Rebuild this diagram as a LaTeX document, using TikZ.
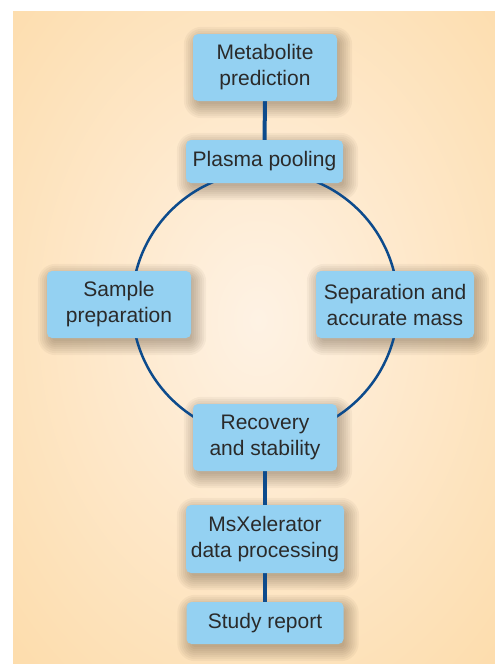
\documentclass[tikz,border=0pt]{standalone}
\usepackage{fontspec}
\setmainfont{Liberation Sans}
\usetikzlibrary{calc}
\definecolor{bgin}{HTML}{FEF2E4}
\definecolor{bgout}{HTML}{FDD79E}
\definecolor{boxfill}{HTML}{94D1F2}
\definecolor{linec}{HTML}{0D4B8C}
\definecolor{txt}{HTML}{2A2A2A}
\pgfdeclarelayer{bg}
\pgfdeclarelayer{shadow}
\pgfdeclarelayer{lines}
\pgfsetlayers{bg,shadow,lines,main}
\tikzset{
  stepbox/.style={fill=boxfill, rounded corners=5pt, inner sep=0pt, align=center,
    text=txt, font=\fontsize{21}{26}\selectfont},
  conn/.style={draw=linec, line width=4pt},
  ringline/.style={draw=linec, line width=2.5pt},
  shadowpiece/.style={fill=black!70!brown, fill opacity=0.045}
}
\begin{document}
\begin{tikzpicture}[x=1pt,y=-1pt]
\useasboundingbox (0,0) rectangle (495,664);
\begin{pgfonlayer}{bg}
\begin{scope}
\clip (13,11) rectangle (495,664);
\fill[bgout] (13,11) rectangle (495,664);
\shade[inner color=bgin, outer color=bgout] (258,320) ellipse (440pt and 600pt);
\end{scope}
\end{pgfonlayer}

\node[stepbox, minimum width=144pt, minimum height=67pt] (meta) at (265,67.5) {Metabolite\\prediction};
\node[stepbox, minimum width=157pt, minimum height=43pt] (plasma) at (264.5,161.5) {Plasma pooling};
\node[stepbox, minimum width=144pt, minimum height=67pt] (sample) at (119,304.5) {Sample\\preparation};
\node[stepbox, minimum width=158pt, minimum height=67pt] (sep) at (395,304.5) {Separation and\\accurate mass};
\node[stepbox, minimum width=144pt, minimum height=67pt] (recov) at (265,437.5) {Recovery\\and stability};
\node[stepbox, minimum width=158pt, minimum height=68pt] (msx) at (265,539) {MsXelerator\\data processing};
\node[stepbox, minimum width=157pt, minimum height=42pt] (report) at (265,623) {Study report};

\begin{pgfonlayer}{shadow}
\foreach \n in {meta,plasma,sample,sep,recov,msx,report}
  \foreach \k in {-2,0,2,4,6,8,10,12}
    \fill[shadowpiece, rounded corners={6pt+\k pt}]
      ($(\n.south west)+(3-\k,5+\k)$) rectangle ($(\n.north east)+(3+\k,5-\k)$);
\end{pgfonlayer}

\begin{pgfonlayer}{lines}
\node[circle, ringline, minimum size=266pt, inner sep=0pt] (ring) at (265,304.5) {};
\draw[conn] (meta.south) -- (plasma.north);
\draw[conn] (recov.south) -- (msx.north);
\draw[conn] (msx.south) -- (report.north);
\end{pgfonlayer}
\end{tikzpicture}
\end{document}
